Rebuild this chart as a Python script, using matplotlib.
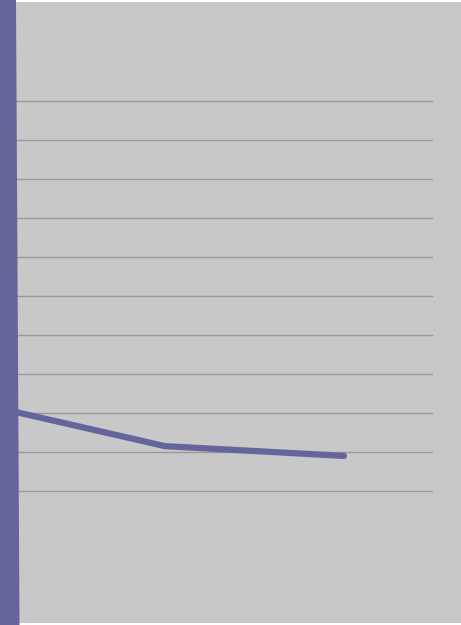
import numpy as np
import matplotlib.pyplot as plt
from matplotlib.patches import Rectangle, Polygon

# dados
pontos = [0, 1, 2]
valores = [2.2, 1.15, 0.9]
linhas_grade = list(range(0, 11))

W, H = 461, 625
roxo = '#65659b'
cinza = '#c8c8c8'

fig = plt.figure(figsize=(W / 100, H / 100), dpi=100, facecolor='white')

# fundo cinza (atrás dos eixos)
fig.patches.append(Rectangle((16 / W, 2 / H), (W - 16) / W, (H - 4) / H,
                             transform=fig.transFigure, facecolor=cinza,
                             edgecolor='none', zorder=-10))

# eixos: grade de 101 a 491 px, x=0 em -14 px e x=2 em 344 px
ax = fig.add_axes([16 / W, (H - 491) / H, (432 - 16) / W, (491 - 101) / H])
ax.set_zorder(1)
ax.patch.set_alpha(0)
ax.set_xlim((16 + 14) / 179, (432 + 14) / 179)
ax.set_ylim(0, 10)
for v in linhas_grade:
    ax.axhline(v, color='#999999', linewidth=1, zorder=1, clip_on=False)
ax.plot(pontos, valores, color=roxo, linewidth=4.5, solid_capstyle='round',
        zorder=2)
for s in ax.spines.values():
    s.set_visible(False)
ax.set_xticks([])
ax.set_yticks([])

# barra roxa da esquerda
fig.patches.append(Polygon([(0, 1), (16 / W, 1), (19.5 / W, 0), (0, 0)],
                           closed=True, transform=fig.transFigure,
                           facecolor=roxo, edgecolor='none', zorder=5))

fig.savefig('out.png', dpi=100, facecolor='white')
